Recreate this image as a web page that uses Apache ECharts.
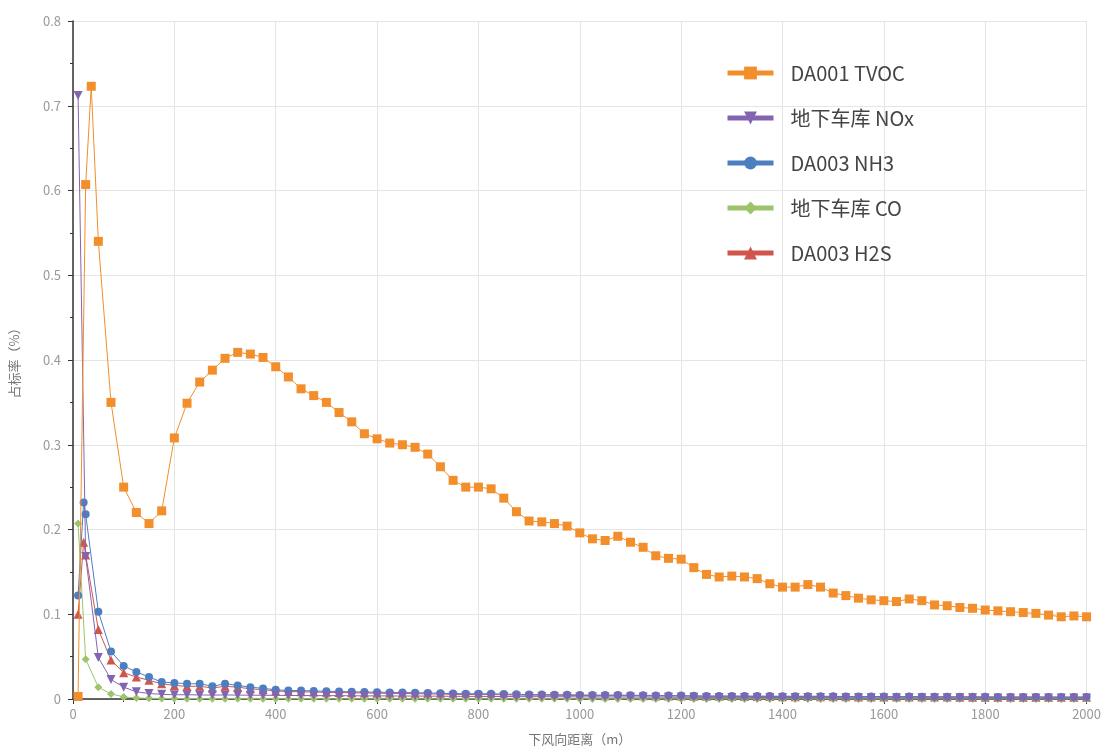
<!DOCTYPE html>
<html><head><meta charset="utf-8">
<script src="https://cdn.jsdelivr.net/npm/echarts@6/dist/echarts.min.js"></script>
<style>html,body{margin:0;padding:0;background:#fff}#c{width:1104px;height:753px}</style>
</head><body><div id="c"></div>
<script>
const distances = [
  10, 25, 50, 75, 100, 125, 150, 175, 200, 225,
  250, 275, 300, 325, 350, 375, 400, 425, 450, 475,
  500, 525, 550, 575, 600, 625, 650, 675, 700, 725,
  750, 775, 800, 825, 850, 875, 900, 925, 950, 975,
  1000, 1025, 1050, 1075, 1100, 1125, 1150, 1175, 1200, 1225,
  1250, 1275, 1300, 1325, 1350, 1375, 1400, 1425, 1450, 1475,
  1500, 1525, 1550, 1575, 1600, 1625, 1650, 1675, 1700, 1725,
  1750, 1775, 1800, 1825, 1850, 1875, 1900, 1925, 1950, 1975,
  2000
];
const seriesNames = ['DA001 TVOC', '地下车库 NOx', 'DA003 NH3', '地下车库 CO', 'DA003 H2S'];
const tvoc = [
  0.003, 0.607, 0.540, 0.350, 0.250, 0.220, 0.207, 0.222, 0.308, 0.349,
  0.374, 0.388, 0.402, 0.409, 0.407, 0.403, 0.392, 0.380, 0.366, 0.358,
  0.350, 0.338, 0.327, 0.313, 0.307, 0.302, 0.300, 0.297, 0.289, 0.274,
  0.258, 0.250, 0.250, 0.248, 0.237, 0.221, 0.210, 0.209, 0.207, 0.204,
  0.196, 0.189, 0.187, 0.192, 0.185, 0.179, 0.169, 0.166, 0.165, 0.155,
  0.147, 0.144, 0.145, 0.144, 0.142, 0.136, 0.132, 0.132, 0.135, 0.132,
  0.125, 0.122, 0.119, 0.117, 0.116, 0.115, 0.118, 0.116, 0.111, 0.110,
  0.108, 0.107, 0.105, 0.104, 0.103, 0.102, 0.101, 0.099, 0.097, 0.098,
  0.097
];
const nox = [
  0.712, 0.168, 0.049, 0.023, 0.014, 0.0085, 0.0065, 0.0055, 0.0050, 0.0050,
  0.0048, 0.0046, 0.0048, 0.0046, 0.0045, 0.0044, 0.0043, 0.0042, 0.0041, 0.0040,
  0.0040, 0.0039, 0.0038, 0.0037, 0.0037, 0.0036, 0.0035, 0.0035, 0.0034, 0.0033,
  0.0032, 0.0031, 0.0031, 0.0030, 0.0029, 0.0028, 0.0027, 0.0027, 0.0026, 0.0026,
  0.0025, 0.0024, 0.0024, 0.0024, 0.0023, 0.0023, 0.0022, 0.0021, 0.0021, 0.0020,
  0.0019, 0.0019, 0.0019, 0.0019, 0.0018, 0.0018, 0.0017, 0.0017, 0.0017, 0.0017,
  0.0016, 0.0016, 0.0015, 0.0015, 0.0015, 0.0015, 0.0015, 0.0015, 0.0014, 0.0014,
  0.0014, 0.0014, 0.0013, 0.0013, 0.0013, 0.0013, 0.0013, 0.0012, 0.0012, 0.0012,
  0.0012
];
const nh3 = [
  0.122, 0.218, 0.103, 0.056, 0.039, 0.032, 0.026, 0.020, 0.019, 0.018,
  0.018, 0.015, 0.018, 0.016, 0.014, 0.0125, 0.011, 0.010, 0.010, 0.0095,
  0.0092, 0.0088, 0.0085, 0.0082, 0.0080, 0.0078, 0.0076, 0.0074, 0.0071, 0.0068,
  0.0064, 0.0062, 0.0062, 0.0061, 0.0058, 0.0055, 0.0052, 0.0052, 0.0051, 0.0050,
  0.0048, 0.0046, 0.0046, 0.0047, 0.0045, 0.0044, 0.0042, 0.0041, 0.0040, 0.0038,
  0.0036, 0.0036, 0.0036, 0.0035, 0.0035, 0.0034, 0.0033, 0.0033, 0.0033, 0.0033,
  0.0031, 0.0030, 0.0029, 0.0029, 0.0029, 0.0028, 0.0029, 0.0028, 0.0027, 0.0027,
  0.0026, 0.0026, 0.0026, 0.0025, 0.0025, 0.0025, 0.0025, 0.0024, 0.0024, 0.0024,
  0.0024
];
const co = [
  0.207, 0.047, 0.014, 0.006, 0.0025, 0.0012, 0.0008, 0.0006, 0.0005, 0.0004,
  0.0004, 0.0003, 0.0003, 0.0003, 0.0003, 0.0003, 0.0003, 0.0003, 0.0003, 0.0003,
  0.0002, 0.0002, 0.0002, 0.0002, 0.0002, 0.0002, 0.0002, 0.0002, 0.0002, 0.0002,
  0.0002, 0.0002, 0.0002, 0.0002, 0.0002, 0.0002, 0.0002, 0.0002, 0.0002, 0.0002,
  0.0001, 0.0001, 0.0001, 0.0001, 0.0001, 0.0001, 0.0001, 0.0001, 0.0001, 0.0001,
  0.0001, 0.0001, 0.0001, 0.0001, 0.0001, 0.0001, 0.0001, 0.0001, 0.0001, 0.0001,
  0.0001, 0.0001, 0.0001, 0.0001, 0.0001, 0.0001, 0.0001, 0.0001, 0.0001, 0.0001,
  0.0001, 0.0001, 0.0001, 0.0001, 0.0001, 0.0001, 0.0001, 0.0001, 0.0001, 0.0001,
  0.0001
];
const h2s = [
  0.100, 0.170, 0.082, 0.046, 0.031, 0.026, 0.022, 0.018, 0.016, 0.015,
  0.015, 0.013, 0.015, 0.014, 0.012, 0.011, 0.0095, 0.0088, 0.0085, 0.0082,
  0.0079, 0.0076, 0.0073, 0.0071, 0.0069, 0.0067, 0.0065, 0.0063, 0.0061, 0.0058,
  0.0055, 0.0053, 0.0053, 0.0052, 0.0050, 0.0047, 0.0045, 0.0045, 0.0044, 0.0043,
  0.0041, 0.0040, 0.0039, 0.0040, 0.0039, 0.0038, 0.0036, 0.0035, 0.0034, 0.0033,
  0.0031, 0.0031, 0.0031, 0.0030, 0.0030, 0.0029, 0.0028, 0.0028, 0.0029, 0.0028,
  0.0027, 0.0026, 0.0025, 0.0025, 0.0025, 0.0024, 0.0025, 0.0024, 0.0023, 0.0023,
  0.0022, 0.0022, 0.0022, 0.0021, 0.0021, 0.0021, 0.0021, 0.0021, 0.0020, 0.0020,
  0.0020
];
// maximum-concentration points (distance, value) per series
const peakTvoc = [36, 0.723];
const peakNh3 = [21, 0.232];
const peakH2s = [21, 0.185];

function build(vals, peak) {
  const pts = distances.map((d, i) => [d, vals[i]]);
  if (peak) pts.push([peak[0], peak[1]]);
  pts.sort((a, b) => a[0] - b[0]);
  return pts;
}

const colors = ['#F28E2B', '#8364B1', '#4C7FC0', '#9DC46A', '#D0554C'];
const symbols = ['rect', 'path://M0,0 L10,0 L5,9 Z', 'circle', 'diamond', 'triangle'];
const sizes = [9, 9, 8, 8, 9];
const dataSets = [build(tvoc, peakTvoc), build(nox, null), build(nh3, peakNh3), build(co, null), build(h2s, peakH2s)];

const FONT = '"Noto Sans CJK SC", "Noto Sans", sans-serif';
const chart = echarts.init(document.getElementById('c'));
chart.setOption({
  animation: false,
  color: colors,
  textStyle: { fontFamily: FONT },
  grid: { left: 73, right: 16, top: 21, bottom: 54 },
  legend: {
    orient: 'vertical', left: 720, top: 58,
    itemWidth: 46, itemHeight: 16, itemGap: 25,
    textStyle: { fontSize: 20, color: '#444', fontFamily: FONT, padding: [0, 0, 0, 12] },
    lineStyle: { width: 5 },
    data: seriesNames
  },
  xAxis: {
    type: 'value', min: 0, max: 2000, interval: 200,
    name: '下风向距离（m）', nameLocation: 'middle', nameGap: 34,
    nameTextStyle: { fontSize: 13, color: '#777' },
    axisLine: { show: true, lineStyle: { color: '#333', width: 1.5 } },
    axisTick: { show: true, length: 5, lineStyle: { color: '#333' } },
    minorTick: { show: true, splitNumber: 2, length: 3, lineStyle: { color: '#333' } },
    axisLabel: { fontSize: 13, color: '#999', margin: 9, formatter: v => String(v) },
    splitLine: { show: true, lineStyle: { color: '#e5e5e5', width: 1 } }
  },
  yAxis: {
    type: 'value', min: 0, max: 0.8, interval: 0.1,
    name: '占标率（%）', nameLocation: 'middle', nameGap: 52,
    nameTextStyle: { fontSize: 13, color: '#777' },
    axisLine: { show: true, lineStyle: { color: '#333', width: 1.5 } },
    axisTick: { show: true, length: 5, lineStyle: { color: '#333' } },
    minorTick: { show: true, splitNumber: 2, length: 3, lineStyle: { color: '#333' } },
    axisLabel: { fontSize: 13, color: '#999', margin: 12 },
    splitLine: { show: true, lineStyle: { color: '#e5e5e5', width: 1 } }
  },
  series: seriesNames.map((n, i) => ({
    name: n, type: 'line', data: dataSets[i],
    symbol: symbols[i], symbolSize: sizes[i], showAllSymbol: true,
    lineStyle: { width: 1, color: colors[i] },
    itemStyle: { color: colors[i] },
    z: 10 - i
  }))
});
</script></body></html>
